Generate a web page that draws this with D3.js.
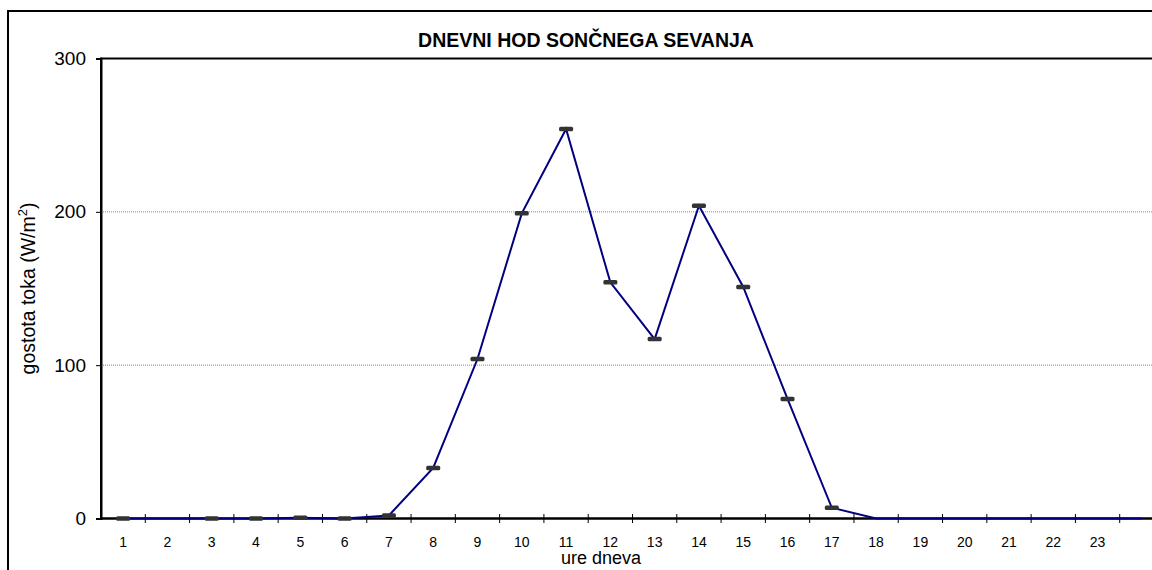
<!DOCTYPE html>
<html>
<head>
<meta charset="utf-8">
<script src="https://cdn.jsdelivr.net/npm/d3@7"></script>
<style>
  html, body { margin: 0; padding: 0; background: #fff; overflow: hidden; }
  svg { display: block; overflow: hidden; font-family: "Liberation Sans", Arial, sans-serif; }
</style>
</head>
<body>
<div id="chart"></div>
<script>
// hours of the day (24th band has no label)
var hours = d3.range(1, 25);
var hourLabels = hours.map(function (h) { return h <= 23 ? String(h) : ""; });
// solar radiation flux density (W/m2) per hour
var flux = [0, 0, 0, 0, 0.5, 0, 2, 33, 104, 199, 254, 154, 117, 204, 151, 78, 7, 0, 0, 0, 0, 0, 0, 0];
// hours that carry a marker
var markedHours = [1, 3, 4, 5, 6, 7, 8, 9, 10, 11, 12, 13, 14, 15, 16, 17];
var yTicks = [0, 100, 200, 300];

var W = 1152, H = 570;
var plot = { left: 101, right: 1164, top: 58.5, bottom: 518.5 };

var svg = d3.select("#chart").append("svg")
    .attr("width", W)
    .attr("height", H);

// outer chart border: only left and top are inside the picture
svg.append("path")
    .attr("d", "M8," + H + "V11H" + W)
    .attr("fill", "none")
    .attr("stroke", "#000")
    .attr("stroke-width", 2);

var x = d3.scaleBand().domain(hours).range([plot.left, plot.right]).padding(0);
var y = d3.scaleLinear().domain([0, 300]).range([plot.bottom, plot.top]);

// gridlines
svg.append("g")
    .selectAll("line")
    .data(yTicks.filter(function (d) { return d > 0 && d < 300; }))
    .enter()
    .append("line")
    .attr("x1", plot.left).attr("x2", W)
    .attr("y1", function (d) { return y(d); })
    .attr("y2", function (d) { return y(d); })
    .attr("stroke", "#888")
    .attr("stroke-width", 1)
    .attr("stroke-dasharray", "1,1");

// plot area border: top
svg.append("line")
    .attr("x1", plot.left).attr("x2", W)
    .attr("y1", y(300)).attr("y2", y(300))
    .attr("stroke", "#000").attr("stroke-width", 2);

// Y axis
var yAxis = svg.append("g")
    .attr("transform", "translate(" + plot.left + ",0)")
    .call(d3.axisLeft(y).tickValues(yTicks).tickSize(5).tickPadding(10).tickFormat(d3.format("d")));
yAxis.select(".domain").attr("stroke-width", 2);
yAxis.selectAll(".tick line").attr("stroke-width", 1);
yAxis.selectAll("text").style("font-size", "19px").attr("fill", "#000");

// X axis: ticks on band boundaries, crossing the axis line
var xAxis = svg.append("g")
    .attr("transform", "translate(0," + plot.bottom + ")");
xAxis.append("line")
    .attr("x1", plot.left).attr("x2", W)
    .attr("stroke", "#000").attr("stroke-width", 2.5);
xAxis.selectAll(".xtick")
    .data(hours.slice(0, 23))
    .enter()
    .append("line")
    .attr("class", "xtick")
    .attr("x1", function (d) { return x(d) + x.bandwidth(); })
    .attr("x2", function (d) { return x(d) + x.bandwidth(); })
    .attr("y1", -4.5).attr("y2", 4.5)
    .attr("stroke", "#000").attr("stroke-width", 1);
xAxis.selectAll(".xlabel")
    .data(hours)
    .enter()
    .append("text")
    .attr("class", "xlabel")
    .attr("x", function (d) { return x(d) + x.bandwidth() / 2; })
    .attr("y", 28)
    .attr("text-anchor", "middle")
    .style("font-family", "'Liberation Sans Narrow', 'Arial Narrow', sans-serif")
    .style("font-size", "14px")
    .text(function (d, i) { return hourLabels[i]; });

// redraw left border over the gridline ends
svg.append("line")
    .attr("x1", plot.left).attr("x2", plot.left)
    .attr("y1", y(300) - 1).attr("y2", plot.bottom)
    .attr("stroke", "#000").attr("stroke-width", 2);

// the line
var line = d3.line()
    .x(function (d, i) { return x(hours[i]) + x.bandwidth() / 2; })
    .y(function (d) { return y(d); });

svg.append("path")
    .datum(flux)
    .attr("fill", "none")
    .attr("stroke", "#000080")
    .attr("stroke-width", 2)
    .attr("d", line);

// dash markers
svg.append("g")
    .selectAll("rect")
    .data(markedHours)
    .enter()
    .append("rect")
    .attr("x", function (h) { return x(h) + x.bandwidth() / 2 - 7; })
    .attr("y", function (h) { return y(flux[h - 1]) - 2.25; })
    .attr("width", 14)
    .attr("height", 4.5)
    .attr("rx", 1.5)
    .attr("fill", "#333");

// title
svg.append("text")
    .attr("x", 586)
    .attr("y", 46.5)
    .attr("text-anchor", "middle")
    .style("font-size", "19.5px")
    .style("font-weight", "bold")
    .text("DNEVNI HOD SONČNEGA SEVANJA");

// x label
svg.append("text")
    .attr("x", 601)
    .attr("y", 564)
    .attr("text-anchor", "middle")
    .style("font-size", "18px")
    .text("ure dneva");

// y label with superscript
var yl = svg.append("text")
    .attr("transform", "translate(35," + ((plot.top + plot.bottom) / 2) + ") rotate(-90)")
    .attr("text-anchor", "middle")
    .style("font-size", "19.5px");
yl.append("tspan").text("gostota toka (W/m");
yl.append("tspan").attr("dy", -8).style("font-size", "13px").text("2");
yl.append("tspan").attr("dy", 8).text(")");
</script>
</body>
</html>
